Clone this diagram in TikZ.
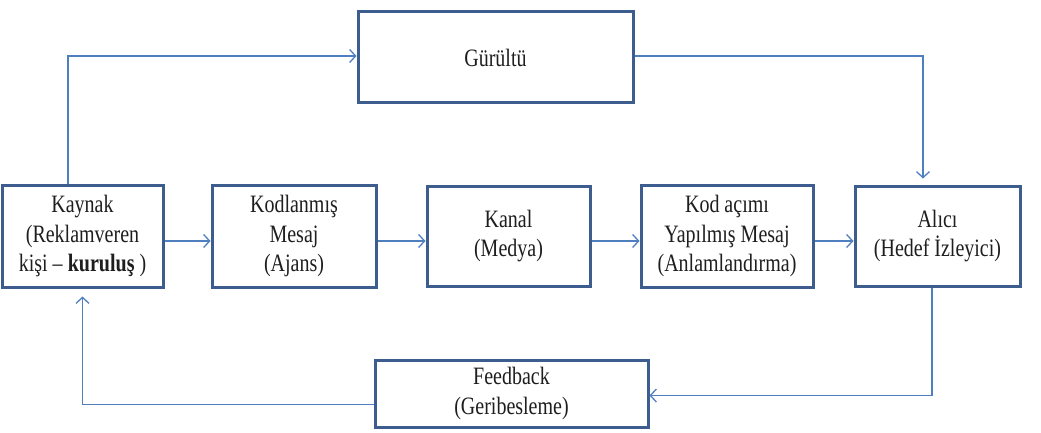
\documentclass[tikz,border=0pt]{standalone}
\usepackage{fontspec}
\setmainfont{Liberation Serif}[FakeStretch=0.8]
\usetikzlibrary{arrows.meta,calc}
\definecolor{boxc}{HTML}{3D5D8E}
\definecolor{arrc}{HTML}{4F7FBF}
\definecolor{txtc}{HTML}{1E1E1E}
\begin{document}
\begin{tikzpicture}[x=1pt,y=-1pt,
  blk/.style={draw=boxc,line width=3pt,fill=white,inner sep=0pt,align=center,
    text=txtc,font=\fontsize{25}{29.5}\selectfont},
  arr/.style={draw=arrc,line width=1.4pt,-{Straight Barb[length=6pt,width=13pt,line width=1.3pt]}},
  ln/.style={draw=arrc,line width=1.4pt}]
\fill[white] (0,0) rectangle (1041,433);
\useasboundingbox (0,0) rectangle (1041,433);
\node[blk,minimum width=161pt,minimum height=102pt] (kay) at (82.5,236) {Kaynak\\(Reklamveren\\kişi – \textbf{kuruluş} )};
\node[blk,minimum width=164pt,minimum height=102pt] (kod) at (294,236) {Kodlanmış\\Mesaj\\(Ajans)};
\node[blk,minimum width=163pt,minimum height=100pt] (kan) at (508.5,236) {Kanal\\(Medya)};
\node[blk,minimum width=172pt,minimum height=102pt] (aci) at (727,236) {Kod açımı\\Yapılmış Mesaj\\(Anlamlandırma)};
\node[blk,minimum width=165pt,minimum height=100pt] (ali) at (937.5,236) {Alıcı\\(Hedef İzleyici)};
\node[blk,minimum width=275pt,minimum height=91pt] (gur) at (495.5,57.5) {Gürültü};
\node[blk,minimum width=273pt,minimum height=67pt] (fb) at (511.5,393.5) {Feedback\\(Geribesleme)};
\draw[arr] ([yshift=-5pt]kay.east) -- ([yshift=-5pt]kod.west);
\draw[arr] ([yshift=-5pt]kod.east) -- ([yshift=-5pt]kan.west);
\draw[arr] ([yshift=-5pt]kan.east) -- ([yshift=-5pt]aci.west);
\draw[arr] ([yshift=-5pt]aci.east) -- ([yshift=-5pt]ali.west);
\draw[arr] ([xshift=-14.5pt]kay.north) |- ([yshift=1.5pt]gur.west);
\draw[arr,shorten >=6pt] ([yshift=1.5pt]gur.east) -| ([xshift=-14.5pt]ali.north);
\draw[arr] ([xshift=-5.5pt]ali.south) |- ([yshift=-2pt]fb.east);
\draw[arr,shorten >=8pt] ([yshift=-11pt]fb.west) -| (kay.south);
\end{tikzpicture}
\end{document}
